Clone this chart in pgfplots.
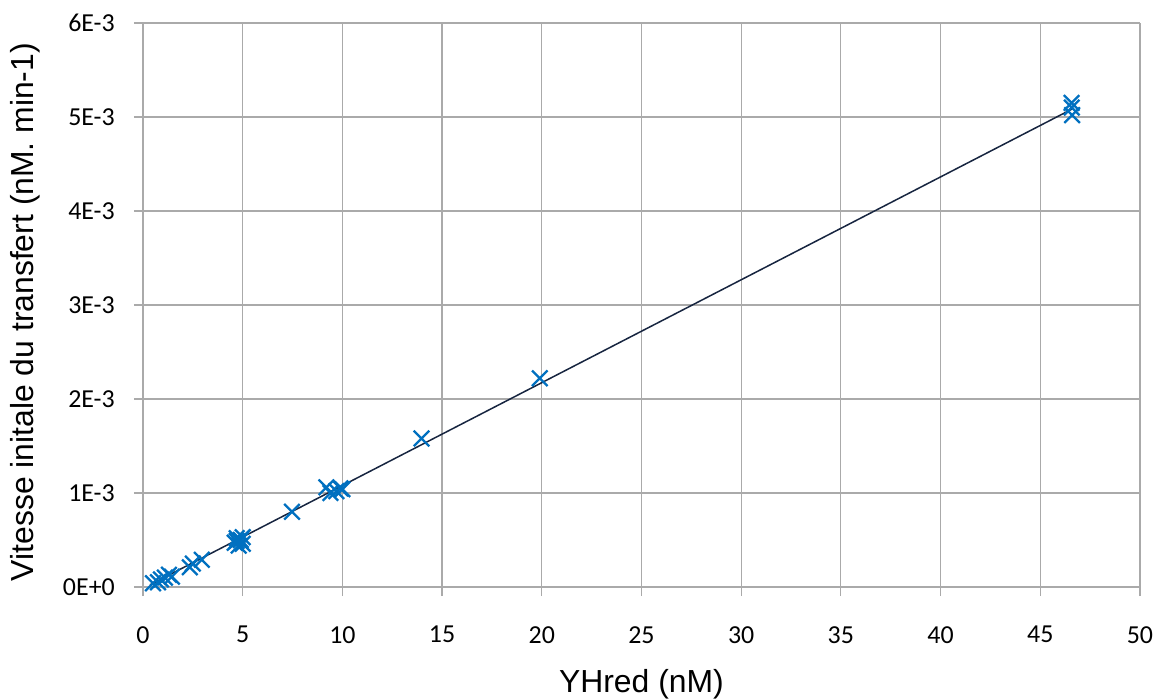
\documentclass[border=0pt]{standalone}
\usepackage{pgfplots}
\pgfplotsset{compat=1.18}
\usepackage{fontspec}
\setmainfont{Liberation Sans}
\newfontfamily\tickfont{Carlito}
\definecolor{mk}{RGB}{0,112,192}
\definecolor{ln}{RGB}{23,37,64}
\definecolor{gr}{RGB}{170,170,170}
\begin{document}
\begin{tikzpicture}[x=1bp,y=1bp]
\begin{axis}[
  at={(0,0)}, anchor=south west,
  scale only axis, width=997bp, height=564bp,
  xmin=0, xmax=50, ymin=0, ymax=0.006,
  xtick={0,5,...,50}, ytick={0,0.001,0.002,0.003,0.004,0.005,0.006},
  xticklabels={0,5,10,15,20,25,30,35,40,45,50},
  yticklabels={0E+0,1E-3,2E-3,3E-3,4E-3,5E-3,6E-3},
  scaled y ticks=false,
  grid=major, grid style={gr, line width=1.2bp},
  axis line style={gr, line width=1.2bp},
  axis x line*=bottom, axis y line*=left,
  tick style={gr, line width=1.2bp}, tick align=outside, major tick length=9bp,
  ticklabel style={font=\tickfont\fontsize{26}{30}\selectfont, text=black, inner sep=0pt},
  xticklabel style={anchor=north, yshift=-30bp},
  yticklabel style={anchor=east, xshift=-19bp},
  xlabel={YHred (nM)}, ylabel={Vitesse initale du transfert (nM. min-1)},
  label style={font=\fontsize{32}{36}\selectfont},
  xlabel style={at={(axis description cs:0.5,-0.172)}, anchor=center},
  ylabel style={at={(axis description cs:-0.1180,0.4876)}, anchor=center},
  clip=false,
]
\addplot[ln, line width=1.5bp, forget plot] coordinates {(0.35,0.000023) (46.6,0.005085)};
\addplot[only marks, mark=x, mark size=11bp, mk, mark options={line width=2.3bp}] coordinates {
(0.5,0.00004) (0.75,0.00005) (0.9,0.00008) (1.1,0.0001) (1.45,0.00011) (1.3,0.00013)
(2.35,0.00021) (2.5,0.00025) (2.95,0.00029)
(4.6,0.00047) (4.7,0.00052) (4.9,0.00050) (5.0,0.00046) (5.0,0.00053) (4.8,0.00044) (4.7,0.00049)
(7.47,0.00080)
(9.2,0.00106) (9.4,0.00100) (9.9,0.00105) (9.7,0.00102) (10.0,0.00104)
(13.97,0.00158) (19.9,0.00222)
(46.57,0.00515) (46.6,0.00502) (46.58,0.00510)
};
\end{axis}
\pgfresetboundingbox
\path (-143bp,-112bp) rectangle (1015bp,587bp);
\end{tikzpicture}
\end{document}
